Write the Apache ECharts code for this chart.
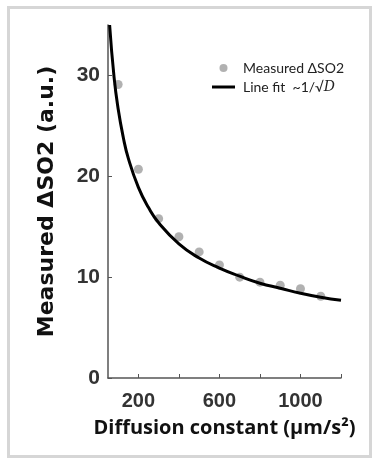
<!DOCTYPE html>
<html>
<head>
<meta charset="utf-8">
<script src="https://cdn.jsdelivr.net/npm/echarts@6/dist/echarts.min.js"></script>
<style>
  html, body { margin: 0; padding: 0; background: #fff; }
  #chart { width: 379px; height: 465px; }
</style>
</head>
<body>
<div id="chart"></div>
<script>
  // measured points
  const measuredX = [100, 200, 300, 400, 500, 600, 700, 800, 900, 1000, 1100];
  const measuredY = [29.1, 20.7, 15.8, 14.0, 12.5, 11.2, 10.0, 9.5, 9.2, 8.85, 8.1];

  // fitted curve
  const fitX = [58, 80, 100, 125, 150, 200, 250, 300, 400, 500, 600, 700, 800, 900, 1000, 1100, 1200];
  const fitY = [35, 29.8, 26.7, 23.9, 21.8, 18.9, 16.9, 15.4, 13.3, 11.9, 10.9, 10.1, 9.4, 8.9, 8.4, 8.0, 7.7];

  const xLabels = [200, 600, 1000];
  const xTicks = [200, 400, 600, 800, 1000, 1200];
  const yTicks = [0, 10, 20, 30];

  const chart = echarts.init(document.getElementById('chart'));

  chart.setOption({
    animation: false,
    graphic: [{
      type: 'rect',
      shape: { x: 8.5, y: 7.5, width: 362, height: 449 },
      style: { fill: 'none', stroke: '#d6d6d6', lineWidth: 3 },
      silent: true
    }],
    grid: { left: 108, right: 38, top: 25, bottom: 87 },
    legend: {
      orient: 'vertical',
      left: 212,
      top: 61,
      padding: 0,
      itemWidth: 23,
      itemHeight: 8,
      itemGap: 5,
      textStyle: {
        fontFamily: 'Lato',
        fontSize: 14,
        color: '#222',
        padding: [0, 0, 0, 3],
        rich: {
          i: { fontFamily: 'DejaVu Serif', fontStyle: 'italic', fontSize: 14, color: '#222' }
        }
      },
      formatter: function (name) {
        if (name === 'Line fit') return 'Line fit  ~1/√{i|D}';
        return name;
      },
      data: [
        { name: 'Measured ΔSO2', icon: 'circle' },
        { name: 'Line fit', icon: 'path://M0,0H23V3H0Z' }
      ]
    },
    xAxis: {
      type: 'value',
      min: 50,
      max: 1200,
      name: 'Diffusion constant (μm/s²)',
      nameLocation: 'middle',
      nameGap: 40,
      nameTextStyle: { fontFamily: 'Open Sans', fontWeight: 'bold', fontSize: 20, color: '#111' },
      axisLine: { lineStyle: { color: '#555', width: 1.5 } },
      axisTick: { inside: true, length: 4, customValues: xTicks, lineStyle: { color: '#555' } },
      axisLabel: {
        customValues: xLabels,
        margin: 13,
        formatter: function (v) { return String(v); },
        fontFamily: 'Liberation Sans',
        fontWeight: 'bold',
        fontSize: 20,
        color: '#333'
      },
      splitLine: { show: false }
    },
    yAxis: {
      type: 'value',
      min: 0,
      max: 35,
      name: 'Measured ΔSO2 (a.u.)',
      nameLocation: 'middle',
      nameGap: 50,
      nameTextStyle: { fontFamily: 'DejaVu Sans', fontWeight: 'bold', fontSize: 22, color: '#111' },
      axisLine: { show: true, lineStyle: { color: '#555', width: 1.5 } },
      axisTick: { show: true, inside: true, length: 4, customValues: yTicks, lineStyle: { color: '#555' } },
      axisLabel: {
        customValues: yTicks,
        margin: 8,
        fontFamily: 'Liberation Sans',
        fontWeight: 'bold',
        fontSize: 21,
        color: '#333'
      },
      splitLine: { show: false }
    },
    series: [
      {
        name: 'Measured ΔSO2',
        type: 'scatter',
        symbolSize: 9,
        itemStyle: { color: '#9e9e9e' },
        data: measuredX.map((x, i) => [x, measuredY[i]]),
        z: 2
      },
      {
        name: 'Line fit',
        type: 'line',
        smooth: true,
        symbol: 'none',
        lineStyle: { color: '#000', width: 3 },
        itemStyle: { color: '#000' },
        data: fitX.map((x, i) => [x, fitY[i]]),
        z: 3
      }
    ]
  });
</script>
</body>
</html>
